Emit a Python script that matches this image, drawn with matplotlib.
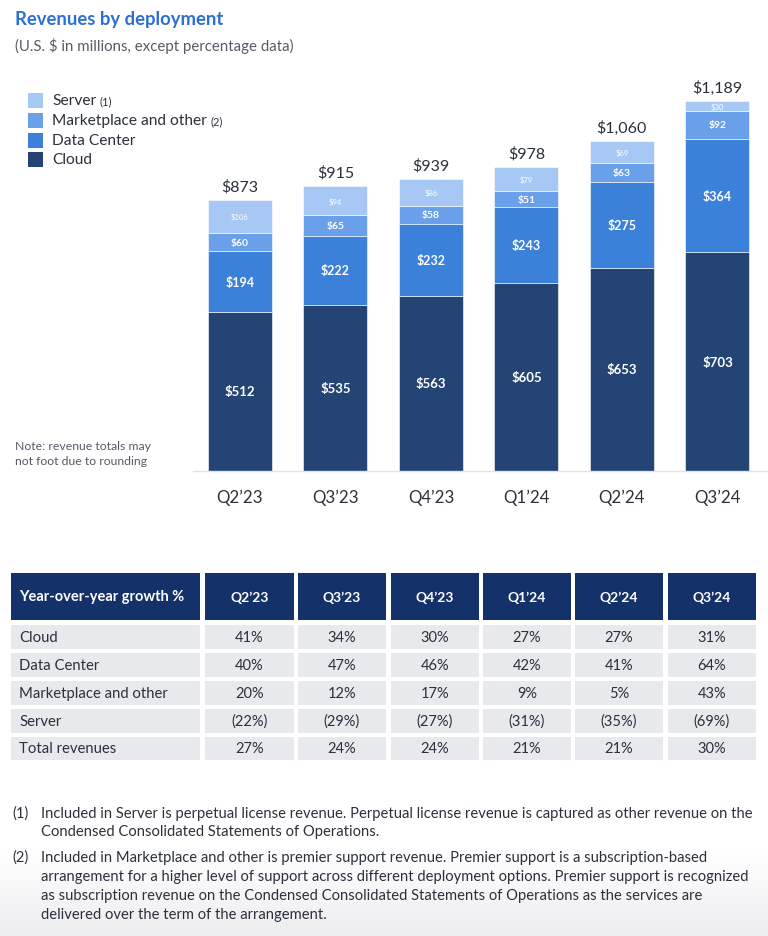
import matplotlib
matplotlib.use("Agg")
import matplotlib.pyplot as plt
import numpy as np
from matplotlib.patches import Rectangle

plt.rcParams['font.family'] = ['Lato', 'DejaVu Sans']

quarters = ["Q2\u201923", "Q3\u201923", "Q4\u201923", "Q1\u201924", "Q2\u201924", "Q3\u201924"]
cloud = [512, 535, 563, 605, 653, 703]
data_center = [194, 222, 232, 243, 275, 364]
marketplace = [60, 65, 58, 51, 63, 92]
server = [106, 94, 86, 79, 69, 30]
totals = [873, 915, 939, 978, 1060, 1189]

table_header = ["Year-over-year growth %"] + quarters
table_rows = ["Cloud", "Data Center", "Marketplace and other", "Server", "Total revenues"]
table_values = [
    ["41%", "34%", "30%", "27%", "27%", "31%"],
    ["40%", "47%", "46%", "42%", "41%", "64%"],
    ["20%", "12%", "17%", "9%", "5%", "43%"],
    ["(22%)", "(29%)", "(27%)", "(31%)", "(35%)", "(69%)"],
    ["27%", "24%", "24%", "21%", "21%", "30%"],
]

C_CLOUD = "#234474"
C_DC = "#3b80d9"
C_MP = "#6aa0e9"
C_SRV = "#a7c8f5"
C_NAVY = "#15316a"
C_TEXT = "#2b303b"
C_GREY = "#555b67"

W, H = 768, 937
fig = plt.figure(figsize=(W / 100, H / 100), dpi=100)

# overlay axes in pixel coordinates
ov = fig.add_axes([0, 0, 1, 1])
ov.axis("off")

# bottom gradient
grad = np.linspace(0, 1, 100).reshape(-1, 1)
ov.imshow(grad, extent=(0, W, H, 850),
          cmap=matplotlib.colors.LinearSegmentedColormap.from_list("g", ["#ffffff", "#ededf0"]),
          aspect="auto", zorder=0)
ov.set_xlim(0, W)
ov.set_ylim(H, 0)

# Title
ov.text(15, 19, "Revenues by deployment", fontsize=13.3, fontweight="bold", color="#2d6fd6", va="center", ha="left")
ov.text(15, 46, "(U.S. $ in millions, except percentage data)", fontsize=10.8, color=C_GREY, va="center", ha="left")

# Legend
leg = [("Server", "(1)", C_SRV, 101), ("Marketplace and other", "(2)", C_MP, 121),
       ("Data Center", None, C_DC, 141), ("Cloud", None, C_CLOUD, 160)]
for name, sup, col, y in leg:
    ov.add_patch(Rectangle((28, y - 7), 15, 15, facecolor=col, edgecolor="none"))
    t = ov.text(52, y, name, fontsize=11.2, color=C_TEXT, va="center", ha="left")
    if sup:
        ov.annotate(sup, xy=(1, 0.5), xycoords=t, xytext=(2.5, -0.5), textcoords="offset points",
                    fontsize=8, color=C_TEXT, va="center", ha="left")

# Note
ov.text(15, 447, "Note: revenue totals may", fontsize=8.8, color=C_GREY, va="center", ha="left")
ov.text(15, 462, "not foot due to rounding", fontsize=8.8, color=C_GREY, va="center", ha="left")

# Main chart axes
ax = fig.add_axes([193 / W, 1 - 472 / H, 575 / W, (472 - 60) / H])
ax.patch.set_alpha(0)
x = np.arange(len(quarters))
bw = 0.67
ax.bar(x, cloud, bw, color=C_CLOUD, edgecolor="white", linewidth=0.4)
ax.bar(x, data_center, bw, bottom=cloud, color=C_DC, edgecolor="white", linewidth=0.4)
bot3 = [a + b for a, b in zip(cloud, data_center)]
ax.bar(x, marketplace, bw, bottom=bot3, color=C_MP, edgecolor="white", linewidth=0.4)
bot4 = [a + b for a, b in zip(bot3, marketplace)]
ax.bar(x, server, bw, bottom=bot4, color=C_SRV, edgecolor="white", linewidth=0.4)

for i in range(len(quarters)):
    ax.text(x[i], cloud[i] / 2, f"${cloud[i]}", ha="center", va="center", color="white", fontsize=9.5, fontweight="bold")
    ax.text(x[i], cloud[i] + data_center[i] / 2, f"${data_center[i]}", ha="center", va="center", color="white",
            fontsize=9, fontweight="bold")
    ax.text(x[i], bot3[i] + marketplace[i] / 2, f"${marketplace[i]}", ha="center", va="center", color="white",
            fontsize=7.5, fontweight="bold")
    ax.text(x[i], bot4[i] + server[i] / 2, f"${server[i]}", ha="center", va="center", color="white", fontsize=5.5)
    ax.text(x[i], bot4[i] + server[i] + 45, f"${totals[i]:,}", ha="center", va="center", color=C_TEXT, fontsize=11.5)

ax.set_xlim(-0.492, 5.53)
ax.set_ylim(0, 1325)
for s in ["top", "right", "left"]:
    ax.spines[s].set_visible(False)
ax.spines["bottom"].set_color("#dfe2e8")
ax.spines["bottom"].set_linewidth(1)
ax.set_yticks([])
ax.set_xticks(x)
ax.set_xticklabels(quarters, fontsize=12.2, color=C_TEXT)
ax.tick_params(axis="x", length=0, pad=13)

# Table
col_edges = [(11, 200), (205, 294), (298, 386), (391, 479), (483, 571), (575, 663), (668, 756)]
hdr_top, hdr_bot = 574, 621
row_spans = [(626, 650), (654, 678), (682, 706), (710, 734), (738, 761)]
for j, (l, r) in enumerate(col_edges):
    ov.add_patch(Rectangle((l, hdr_top), r - l, hdr_bot - hdr_top, facecolor=C_NAVY, edgecolor="none"))
    if j == 0:
        ov.text(l + 8, (hdr_top + hdr_bot) / 2, table_header[j], color="white", fontsize=10.5,
                fontweight="bold", va="center", ha="left")
    else:
        ov.text((l + r) / 2, (hdr_top + hdr_bot) / 2, table_header[j], color="white", fontsize=10,
                fontweight="bold", va="center", ha="center")
for i, (t, b) in enumerate(row_spans):
    for j, (l, r) in enumerate(col_edges):
        ov.add_patch(Rectangle((l, t), r - l, b - t, facecolor="#e8e9ed", edgecolor="none"))
        if j == 0:
            ov.text(l + 8, (t + b) / 2, table_rows[i], color=C_TEXT, fontsize=10.7, va="center", ha="left")
        else:
            ov.text((l + r) / 2, (t + b) / 2, table_values[i][j - 1], color=C_TEXT, fontsize=10.5,
                    va="center", ha="center")

# Footnotes
fn1 = ["Included in Server is perpetual license revenue. Perpetual license revenue is captured as other revenue on the",
       "Condensed Consolidated Statements of Operations."]
fn2 = ["Included in Marketplace and other is premier support revenue. Premier support is a subscription-based",
       "arrangement for a higher level of support across different deployment options. Premier support is recognized",
       "as subscription revenue on the Condensed Consolidated Statements of Operations as the services are",
       "delivered over the term of the arrangement."]
FS = 10.6
ov.text(12, 814, "(1)", fontsize=FS, color=C_TEXT, va="center", ha="left")
for k, line in enumerate(fn1):
    ov.text(41, 814 + k * 18.5, line, fontsize=FS, color=C_TEXT, va="center", ha="left")
ov.text(12, 858, "(2)", fontsize=FS, color=C_TEXT, va="center", ha="left")
for k, line in enumerate(fn2):
    ov.text(41, 858 + k * 19, line, fontsize=FS, color=C_TEXT, va="center", ha="left")

fig.savefig("out.png", dpi=100)
